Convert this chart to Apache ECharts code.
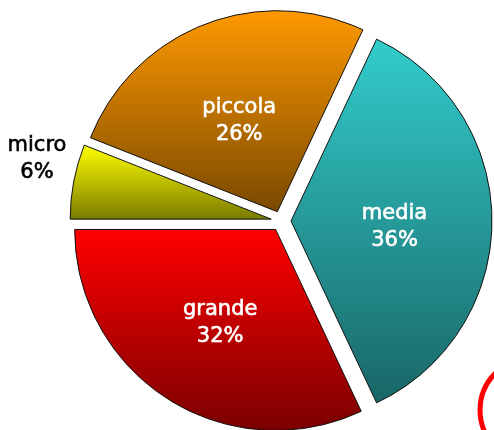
<!DOCTYPE html>
<html>
<head>
<meta charset="utf-8">
<script src="https://cdn.jsdelivr.net/npm/echarts@6/dist/echarts.min.js"></script>
<style>html,body{margin:0;padding:0;background:#fff}#c{width:494px;height:430px}</style>
</head>
<body>
<div id="c"></div>
<script>
const categories = ['media', 'grande', 'micro', 'piccola'];
const values = [36, 32, 6, 26];
const topColors = ['#33cccc', '#ff0000', '#ffff00', '#ff9900'];
const bottomColors = ['#196666', '#7a0000', '#7a7a00', '#7a4900'];
const outsideLabel = 'micro';

const chart = echarts.init(document.getElementById('c'), null, {renderer: 'canvas'});
const data = categories.map((name, i) => ({
  name: name,
  value: values[i],
  selected: true,
  itemStyle: {
    color: {
      type: 'linear', x: 0, y: 0, x2: 0, y2: 1,
      colorStops: [{offset: 0, color: topColors[i]}, {offset: 1, color: bottomColors[i]}]
    }
  },
  label: {show: name !== outsideLabel}
}));

const oi = categories.indexOf(outsideLabel);
const fontBase = {fontFamily: 'DejaVu Sans', fontSize: 21, lineHeight: 27, textBorderWidth: 0.6};

chart.setOption({
  animation: false,
  backgroundColor: '#fff',
  series: [{
    type: 'pie',
    center: [281, 221],
    radius: [0, 201],
    startAngle: 64.8,
    clockwise: true,
    selectedMode: 'multiple',
    selectedOffset: 10,
    avoidLabelOverlap: false,
    itemStyle: {borderColor: '#111', borderWidth: 1},
    label: {
      position: 'inside',
      color: '#fff',
      align: 'center',
      formatter: p => '{pad|}\n{v|' + p.name + '}\n{v|' + p.value + '%}',
      rich: {
        pad: {height: 12, lineHeight: 12, fontSize: 10},
        v: Object.assign({color: '#fff', textBorderColor: '#fff', align: 'center'}, fontBase)
      }
    },
    labelLine: {show: false},
    emphasis: {disabled: true},
    data: data
  }],
  graphic: [{
    type: 'text',
    x: 37, y: 159,
    style: Object.assign({
      text: categories[oi] + '\n' + values[oi] + '%',
      fill: '#000', stroke: '#000', lineWidth: 0.6,
      font: '21px "DejaVu Sans"',
      align: 'center', verticalAlign: 'middle'
    }, {fontFamily: 'DejaVu Sans', fontSize: 21, lineHeight: 27}),
    silent: true
  }, {
    type: 'circle',
    shape: {cx: 532, cy: 410, r: 52},
    style: {fill: 'none', stroke: '#ff0000', lineWidth: 5},
    silent: true
  }]
});
</script>
</body>
</html>
